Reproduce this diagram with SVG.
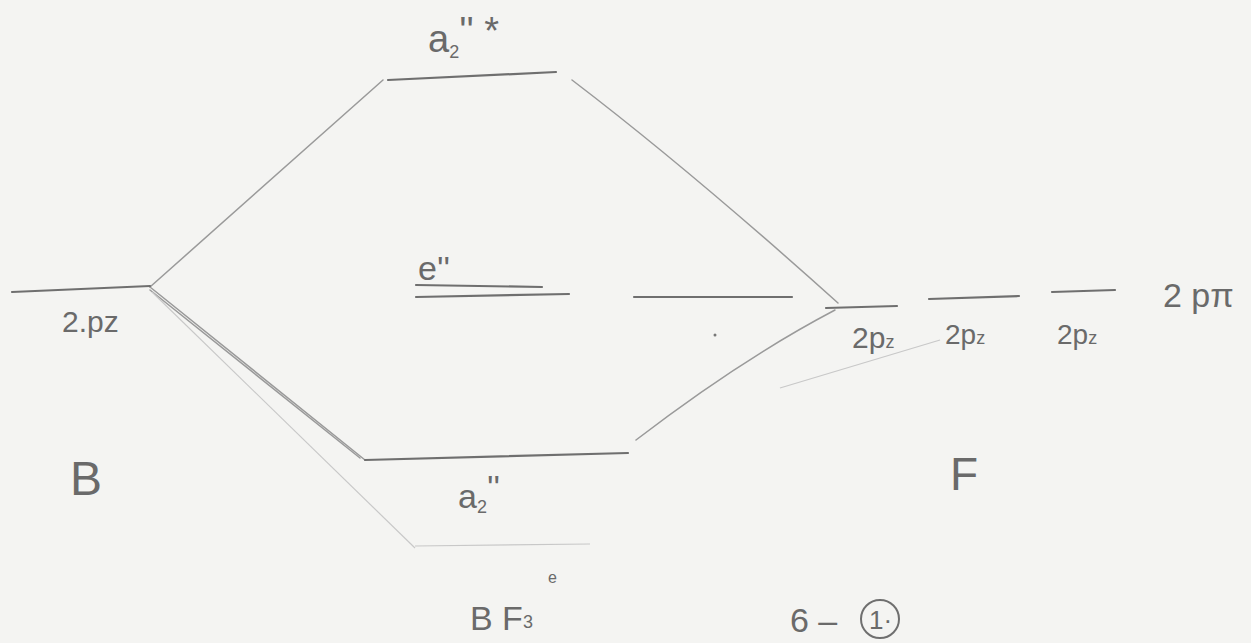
<svg xmlns="http://www.w3.org/2000/svg" width="1251" height="643" viewBox="0 0 1251 643">
<style>
.ln{stroke:#6f6f6f;stroke-width:2.2;fill:none;stroke-linecap:round}
.fn{stroke:#9a9a9a;stroke-width:1.5;fill:none;stroke-linecap:round}
.ff{stroke:#c8c8c8;stroke-width:1.2;fill:none}
.t{font-family:"Liberation Sans",sans-serif;fill:#6a6a6a;font-size:30px}
.s{font-size:18px}
</style>
<rect width="1251" height="643" fill="#f4f4f2"/>
<g id="connectors">
<path class="fn" d="M150,287 L383,80"/>
<path class="fn" d="M572,80 Q690,170 838,303"/>
<path class="fn" d="M150,287 L365,460"/>
<path class="fn" d="M150,290 L360,458"/>
<path class="ff" d="M152,292 L415,548"/>
<path class="fn" d="M636,440 Q740,360 835,310"/>
<path class="ff" d="M780,388 L940,340"/>
<path class="ff" d="M415,546 L590,544"/>
</g>
<g id="B-2pz"><path class="ln" d="M12,292 L150,286"/><text class="t" x="62" y="332" style="font-size:30px">2.pz</text></g>
<g id="a2star"><path class="ln" d="M388,80 L556,72"/><text class="t" x="428" y="52" style="font-size:38px">a<tspan class="s" dy="6">2</tspan><tspan dy="-14">'' *</tspan></text></g>
<g id="e2"><path class="ln" d="M416,285 L542,287"/><path class="ln" d="M416,297 L569,294"/><path class="ln" d="M634,297 L792,297"/><text class="t" x="418" y="280" style="font-size:34px">e''</text><circle cx="715" cy="335" r="1.5" fill="#777"/></g>
<g id="a2"><path class="ln" d="M365,460 L628,453"/><text class="t" x="458" y="508" style="font-size:34px">a<tspan class="s" dy="5">2</tspan><tspan dy="-14">''</tspan></text></g>
<g id="F-levels">
<path class="ln" d="M826,308 L897,306"/>
<path class="ln" d="M929,299 L1019,296"/>
<path class="ln" d="M1052,292 L1115,290"/>
<text class="t" x="852" y="348" style="font-size:30px">2p<tspan class="s">z</tspan></text>
<text class="t" x="945" y="344" style="font-size:28px">2p<tspan class="s">z</tspan></text>
<text class="t" x="1057" y="344" style="font-size:28px">2p<tspan class="s">z</tspan></text>
<text class="t" x="1163" y="307" style="font-size:34px">2 pπ</text>
</g>
<g id="B"><text class="t" x="70" y="495" style="font-size:48px">B</text></g>
<g id="F"><text class="t" x="950" y="490" style="font-size:46px">F</text></g>
<g id="BF3"><text class="t" x="470" y="630" style="font-size:34px">B F<tspan class="s" dy="-2">3</tspan></text><text class="t" x="548" y="583" style="font-size:16px">e</text></g>
<g id="label6"><text class="t" x="790" y="632" style="font-size:34px">6 –</text><circle cx="880" cy="619" r="19" fill="none" stroke="#6f6f6f" stroke-width="2"/><text class="t" x="869" y="629" style="font-size:26px">1·</text></g>
</svg>
